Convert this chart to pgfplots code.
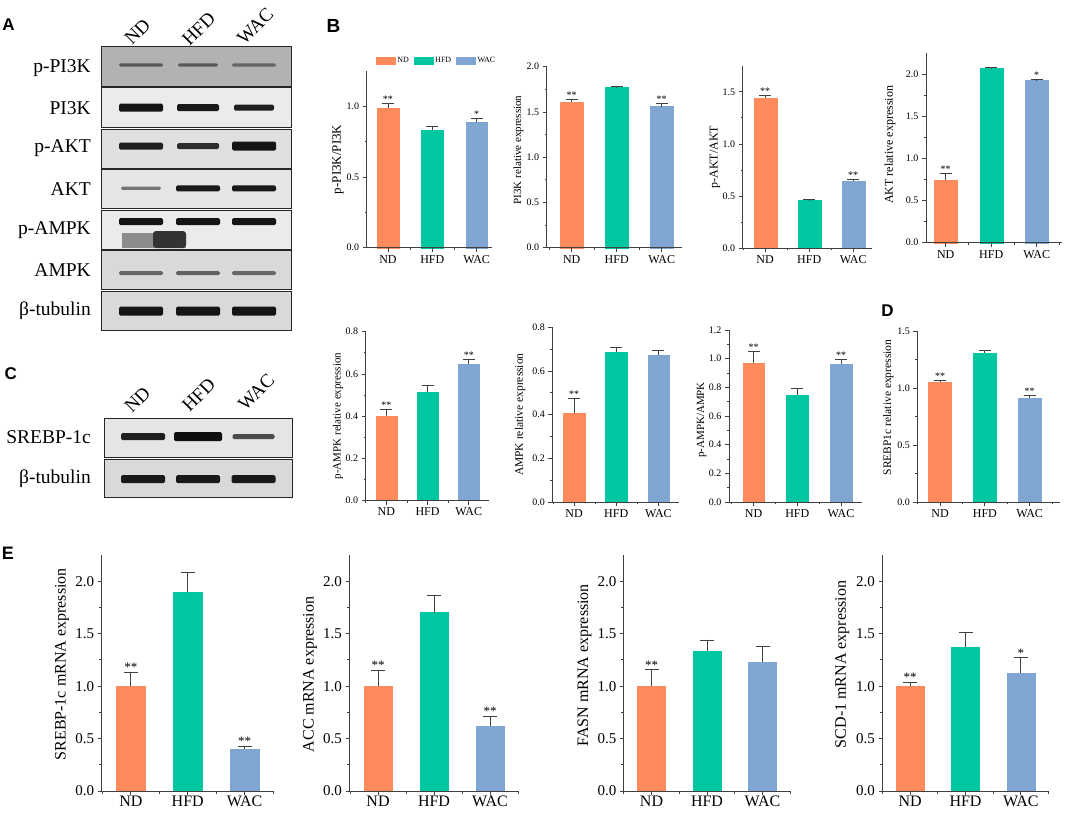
\documentclass[border=0pt]{standalone}
\usepackage{fontspec}
\setmainfont{Liberation Serif}
\newfontfamily\panelfont{Liberation Sans}
\usepackage{pgfplots}
\pgfplotsset{compat=1.18}
\definecolor{ndc}{HTML}{FF8A5C}
\definecolor{hfdc}{HTML}{00C6A2}
\definecolor{wacc}{HTML}{7FA6D1}
\newcommand\fs[1]{\fontsize{#1}{#1}\selectfont}
\def\errsize{6pt}
\def\starfs{\fs{10}}
\newcommand\band[5]{\fill[black!#5, rounded corners=1.5pt] ({#1-#3},{#2-#4}) rectangle ({#1+#3},{#2+#4});}
\newcommand\blotrow[5]{\filldraw[fill=black!#5, draw=black!85, line width=1pt] (#1,#2) rectangle (#3,#4);}

\pgfplotsset{
 bar legend/.style={legend image code/.code={\fill[##1] (0pt,-3.5pt) rectangle (19pt,3.5pt);}},
 barbase/.style={ybar, bar shift=0pt, draw=#1, fill=#1, line width=0.3pt, bar legend,
   error bars/y dir=plus, error bars/y explicit,
   error bars/error bar style={line width=0.8pt, draw=black!75},
   error bars/error mark options={rotate=90, mark size=\errsize, line width=0.8pt, draw=black!75}},
 ndbar/.style={barbase=ndc}, hfdbar/.style={barbase=hfdc}, wacbar/.style={barbase=wacc},
 stars/.style={draw=none, mark=none, forget plot, nodes near coords, point meta=explicit symbolic,
   every node near coord/.append style={anchor=south, inner sep=0.5pt, font=\starfs}},
 ylab/.style n args={3}{every axis y label/.style={at={(axis description cs:#1,#2)}, rotate=90, anchor=center, font=\fs{#3}}},
 orig/.style={scale only axis, anchor=south west, axis lines=left,
   axis line style={-, line width=0.9pt, draw=black!75},
   tick align=outside, major tick length=4pt, minor tick length=2pt,
   tick style={line width=0.8pt, draw=black!75},
   xtick={1,2,3}, xticklabels={ND,HFD,WAC}, minor xtick={0.5,1.5,2.5,3.5}, minor y tick num=1,
   ymin=0, clip=false, axis on top,
   /pgf/number format/assume math mode=true,
   yticklabel style={/pgf/number format/fixed, /pgf/number format/fixed zerofill, /pgf/number format/precision=1}},
 bsmall/.style={yticklabel style={font=\fs{10}}, xticklabel style={font=\fs{12}}},
 ebig/.style={yticklabel style={font=\fs{15}}, xticklabel style={font=\fs{16}, inner sep=0.5pt}, major tick length=4pt, minor tick length=2.5pt},
}

\newcommand\chart[9]{%
\begin{axis}[orig,#1]
\addplot[ndbar,bar width=#2] coordinates {(1,#3) +- (0,#4)};
\addplot[hfdbar,bar width=#2] coordinates {(2,#5) +- (0,#6)};
\addplot[wacbar,bar width=#2] coordinates {(3,#7) +- (0,#8)};
\addplot[stars] coordinates {#9};
\end{axis}}

\begin{document}
\begin{tikzpicture}
\useasboundingbox (0pt,0pt) rectangle (1065pt,-814pt);
\begin{scope}[x=1pt,y=-1pt]
% ---------- Panel A blots ----------
\blotrow{101.7}{46.7}{291.7}{86}{30}
\band{141}{65}{22}{1.6}{65}\band{198}{65}{20}{1.6}{65}\band{254}{65}{22}{1.6}{60}
\blotrow{101.7}{87.7}{291.7}{127.7}{8}
\band{141}{107.7}{22}{4}{92}\band{198}{107.7}{21}{3.5}{90}\band{254}{107.7}{20}{3}{88}
\blotrow{101.7}{129.3}{291.7}{168}{12}
\band{141}{146}{22}{3.5}{88}\band{198}{146}{21}{3}{82}\band{254}{146}{22}{4.5}{92}
\blotrow{101.7}{169.5}{291.7}{208.5}{10}
\band{141}{188.3}{20}{1.6}{55}\band{198}{188.3}{22}{3}{90}\band{254}{188.3}{22}{3}{90}
\blotrow{101.7}{210}{291.7}{249}{8}
\band{141}{221.7}{22}{3.5}{92}\band{198}{221.7}{22}{3.5}{92}\band{254}{221.7}{22}{3.5}{92}
\fill[black!45] (122,233) rectangle (186,248);
\fill[black!80, rounded corners=3pt] (153,231) rectangle (186,248);
\blotrow{101.7}{250.5}{291.7}{289.5}{15}
\band{141}{273}{22}{2}{60}\band{198}{273}{22}{2}{62}\band{254}{273}{22}{2}{60}
\blotrow{101.7}{291}{291.7}{330}{15}
\band{141}{311}{22}{4.5}{92}\band{198}{311}{22}{4.5}{92}\band{254}{311}{22}{4.5}{92}
\foreach \lab/\yy in {p-PI3K/68, PI3K/108, p-AKT/148, AKT/189, p-AMPK/230, AMPK/270, β-tubulin/311}
  \node[anchor=east, font=\fs{19.5}, inner sep=0pt] at (91,\yy) {\lab};
\node[rotate=45, anchor=base west, font=\fs{19}, inner sep=0pt] at (132,46) {ND};
\node[rotate=45, anchor=base west, font=\fs{19}, inner sep=0pt] at (189.5,47) {HFD};
\node[rotate=45, anchor=base west, font=\fs{19}, inner sep=0pt] at (244.5,46) {WAC};
% ---------- Panel C blots ----------
\blotrow{104}{418.3}{292.3}{457.3}{10}
\band{143}{436.7}{22}{3.5}{88}\band{198}{436.7}{24}{4.5}{94}\band{253.5}{436.7}{21}{2.5}{70}
\blotrow{104}{459.3}{292.3}{497.5}{15}
\band{143}{479}{22}{4}{90}\band{198}{479}{22}{4}{90}\band{253.5}{479}{22}{4}{90}
\node[anchor=east, font=\fs{19.5}, inner sep=0pt] at (91,437) {SREBP-1c};
\node[anchor=east, font=\fs{19.5}, inner sep=0pt] at (91,479) {β-tubulin};
\node[rotate=45, anchor=base west, font=\fs{19}, inner sep=0pt] at (132,414) {ND};
\node[rotate=45, anchor=base west, font=\fs{19}, inner sep=0pt] at (189.5,413) {HFD};
\node[rotate=45, anchor=base west, font=\fs{19}, inner sep=0pt] at (245.5,412) {WAC};
% ---------- Panel letters ----------
\node[font=\panelfont\bfseries\fs{17}] at (8.5,25) {A};
\node[font=\panelfont\bfseries\fs{19}] at (333.5,26) {B};
\node[font=\panelfont\bfseries\fs{17}] at (10.8,374) {C};
\node[font=\panelfont\bfseries\fs{17}] at (887.5,311) {D};
\node[font=\panelfont\bfseries\fs{18}] at (8,553.5) {E};
\end{scope}

% ---------- Panel B, row 1 ----------
\chart{bsmall, at={(366.7pt,-247.7pt)}, width=125pt, height=176.7pt, xmin=0.52, xmax=3.34, ymax=1.25,
  ytick={0,0.5,1}, ylabel={p-PI3K/PI3K}, ylab={-0.23}{0.5}{13},
  legend entries={ND,HFD,WAC},
  legend style={at={(0.56,1.028)}, anchor=south, draw=none, fill=none, legend columns=3, font=\fs{8}, inner sep=0pt,
    /tikz/every even column/.append style={column sep=3pt}}}
  {21.7pt}{0.99}{0.03}{0.833}{0.022}{0.891}{0.022}{(1,1.02)[**] (3,0.913)[*]}
\chart{bsmall, at={(546.7pt,-247.7pt)}, width=135pt, height=181pt, xmin=0.444, xmax=3.444, ymax=2.0,
  ytick={0,0.5,1,1.5,2}, ylabel={PI3K relative expression}, ylab={-0.21}{0.54}{11}}
  {23pt}{1.61}{0.03}{1.772}{0.008}{1.56}{0.04}{(1,1.64)[**] (3,1.60)[**]}
\chart{bsmall, at={(742.7pt,-248.3pt)}, width=129pt, height=182.6pt, xmin=0.49, xmax=3.42, ymax=1.75,
  ytick={0,0.5,1,1.5}, ylabel={p-AKT/AKT}, ylab={-0.215}{0.5}{12}}
  {23pt}{1.44}{0.028}{0.463}{0.004}{0.642}{0.018}{(1,1.468)[**] (3,0.66)[**]}
\chart{bsmall, at={(926pt,-242.7pt)}, width=135.7pt, height=189.4pt, xmin=0.567, xmax=3.55, ymax=2.25,
  ytick={0,0.5,1,1.5,2}, ylabel={AKT relative expression}, ylab={-0.265}{0.516}{12}}
  {23pt}{0.748}{0.08}{2.073}{0.007}{1.926}{0.012}{(1,0.828)[**] (3,1.938)[*]}
% ---------- Panel B, row 2 and D ----------
\chart{bsmall, at={(365.7pt,-500.5pt)}, width=123.3pt, height=168.8pt, xmin=0.5, xmax=3.49, ymax=0.8,
  ytick={0,0.2,0.4,0.6,0.8}, ylabel={p-AMPK relative expression}, ylab={-0.225}{0.5}{11}}
  {21pt}{0.40}{0.034}{0.513}{0.031}{0.648}{0.023}{(1,0.434)[**] (3,0.671)[**]}
\chart{bsmall, at={(552.3pt,-502pt)}, width=126.7pt, height=174.7pt, xmin=0.485, xmax=3.49, ymax=0.8,
  ytick={0,0.2,0.4,0.6,0.8}, ylabel={AMPK relative expression}, ylab={-0.255}{0.5}{11.5}}
  {21.3pt}{0.409}{0.065}{0.685}{0.021}{0.673}{0.021}{(1,0.474)[**]}
\chart{bsmall, at={(729pt,-502pt)}, width=133pt, height=172pt, xmin=0.44, xmax=3.48, ymax=1.2,
  ytick={0,0.2,0.4,0.6,0.8,1.0,1.2}, ylabel={p-AMPK/AMPK}, ylab={-0.205}{0.477}{11}}
  {21.7pt}{0.97}{0.083}{0.748}{0.043}{0.963}{0.031}{(1,1.053)[**] (3,0.994)[**]}
\chart{bsmall, at={(917.3pt,-502pt)}, width=142.7pt, height=171pt, xmin=0.49, xmax=3.68, ymax=1.5,
  ytick={0,0.5,1,1.5}, ylabel={SREBP1c relative expression}, ylab={-0.203}{0.553}{11.5}}
  {23pt}{1.055}{0.012}{1.31}{0.02}{0.915}{0.021}{(1,1.067)[**] (3,0.936)[**]}
% ---------- Panel E ----------
\def\errsize{7pt}\def\starfs{\fs{13}}
\chart{ebig, at={(101.6pt,-791pt)}, width=172pt, height=236pt, xmin=0.486, xmax=3.51, ymax=2.25,
  ytick={0,0.5,1,1.5,2}, ylabel={SREBP-1c mRNA expression}, ylab={-0.23}{0.537}{16}}
  {29pt}{1.0}{0.134}{1.895}{0.188}{0.40}{0.025}{(1,1.134)[**] (3,0.425)[**]}
\chart{ebig, at={(349.5pt,-791pt)}, width=168.5pt, height=236pt, xmin=0.49, xmax=3.5, ymax=2.25,
  ytick={0,0.5,1,1.5,2}, ylabel={ACC mRNA expression}, ylab={-0.234}{0.494}{16}}
  {28pt}{1.0}{0.149}{1.701}{0.163}{0.623}{0.091}{(1,1.149)[**] (3,0.714)[**]}
\chart{ebig, at={(623.8pt,-791pt)}, width=167pt, height=236pt, xmin=0.5, xmax=3.51, ymax=2.25,
  ytick={0,0.5,1,1.5,2}, ylabel={FASN mRNA expression}, ylab={-0.235}{0.533}{16}}
  {28pt}{1.0}{0.155}{1.336}{0.104}{1.227}{0.151}{(1,1.155)[**]}
\chart{ebig, at={(882.5pt,-791pt)}, width=166pt, height=236pt, xmin=0.5, xmax=3.5, ymax=2.25,
  ytick={0,0.5,1,1.5,2}, ylabel={SCD-1 mRNA expression}, ylab={-0.243}{0.536}{16}}
  {28pt}{1.0}{0.033}{1.371}{0.14}{1.124}{0.146}{(1,1.033)[**] (3,1.27)[*]}
\end{tikzpicture}
\end{document}
